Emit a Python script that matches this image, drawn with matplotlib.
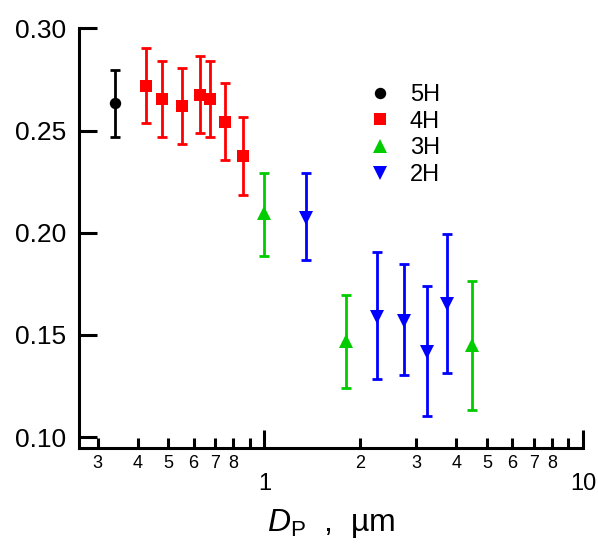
import matplotlib
matplotlib.use("Agg")
import matplotlib.pyplot as plt
from matplotlib.ticker import FixedLocator, FixedFormatter
from matplotlib.lines import Line2D

plt.rcParams['font.family'] = ['Liberation Sans', 'DejaVu Sans']
plt.rcParams['mathtext.fontset'] = 'custom'
plt.rcParams['mathtext.rm'] = 'Liberation Sans'
plt.rcParams['mathtext.it'] = 'Liberation Sans:italic'

# data: diameter (um), value, upper and lower error ends
x5 = [0.341]
y5 = [0.2636]
hi5 = [0.2797]
lo5 = [0.2470]

x4 = [0.426, 0.478, 0.552, 0.627, 0.677, 0.755, 0.855]
y4 = [0.2719, 0.2654, 0.2620, 0.2675, 0.2653, 0.2542, 0.2375]
hi4 = [0.2902, 0.2839, 0.2804, 0.2863, 0.2839, 0.2731, 0.2565]
lo4 = [0.2537, 0.2469, 0.2435, 0.2488, 0.2467, 0.2356, 0.2184]

x3 = [1.00, 1.80, 4.49]
y3 = [0.2095, 0.1472, 0.1450]
hi3 = [0.2291, 0.1695, 0.1762]
lo3 = [0.1888, 0.1240, 0.1131]

x2 = [1.354, 2.25, 2.748, 3.243, 3.74]
y2 = [0.2073, 0.1589, 0.1570, 0.1418, 0.1650]
hi2 = [0.2291, 0.1906, 0.1845, 0.1739, 0.1992]
lo2 = [0.1866, 0.1284, 0.1304, 0.1105, 0.1315]

series = [
    ("5H", x5, y5, hi5, lo5, "black", "o", 8.2),
    ("4H", x4, y4, hi4, lo4, "#ff0000", "s", 8.0),
    ("3H", x3, y3, hi3, lo3, "#00cc00", "^", 9.5),
    ("2H", x2, y2, hi2, lo2, "#0000ff", "v", 9.5),
]

fig = plt.figure(figsize=(5.98, 5.47), dpi=100)
ax = fig.add_axes([79/598, 1-448/547, (583-79)/598, (448-28.3)/547])

handles = []
for name, xs, ys, hi, lo, c, m, ms in series:
    err = [[y - l for y, l in zip(ys, lo)], [h - y for y, h in zip(ys, hi)]]
    ax.errorbar(xs, ys, yerr=err, fmt='none', ecolor=c, elinewidth=2.0,
                capsize=3.8, capthick=2.0)
    ax.plot(xs, ys, ls='none', marker=m, color=c, ms=ms, mew=0)
    handles.append(Line2D([], [], ls='none', marker=m, color=c, ms=ms, mew=0, label=name))

ax.set_xscale('log')
ax.set_xlim(0.262, 10)
ax.set_ylim(0.0947, 0.30)

for s in ['top', 'right']:
    ax.spines[s].set_visible(False)
for s in ['left', 'bottom']:
    ax.spines[s].set_linewidth(2.2)

ax.set_yticks([0.10, 0.15, 0.20, 0.25, 0.30])
ax.set_yticklabels(['0.10', '0.15', '0.20', '0.25', '0.30'])
ax.tick_params(axis='y', direction='in', length=13, width=2.2, labelsize=19, pad=9)

ax.xaxis.set_major_locator(FixedLocator([1, 10]))
ax.xaxis.set_major_formatter(FixedFormatter(['1', '10']))
minor = [0.3, 0.4, 0.5, 0.6, 0.7, 0.8, 0.9, 2, 3, 4, 5, 6, 7, 8, 9]
minor_lab = ['3', '4', '5', '6', '7', '8', '', '2', '3', '4', '5', '6', '7', '8', '']
ax.xaxis.set_minor_locator(FixedLocator(minor))
ax.xaxis.set_minor_formatter(FixedFormatter(minor_lab))
ax.tick_params(axis='x', which='major', direction='in', length=13, width=2.2,
               labelsize=17, pad=18)
ax.tick_params(axis='x', which='minor', direction='in', length=7, width=2.2,
               labelsize=13, pad=5)

ax.set_xlabel(r'$D_{\mathrm{P}}$  ,  µm', fontsize=23, labelpad=9)

ax.legend(handles=handles, loc='upper left', bbox_to_anchor=(368.2/598, 1-84/547),
          bbox_transform=fig.transFigure, frameon=False, fontsize=17,
          borderpad=0, borderaxespad=0, handlelength=1, handletextpad=0.77,
          labelspacing=0.2)

fig.savefig('out.png', dpi=100)
